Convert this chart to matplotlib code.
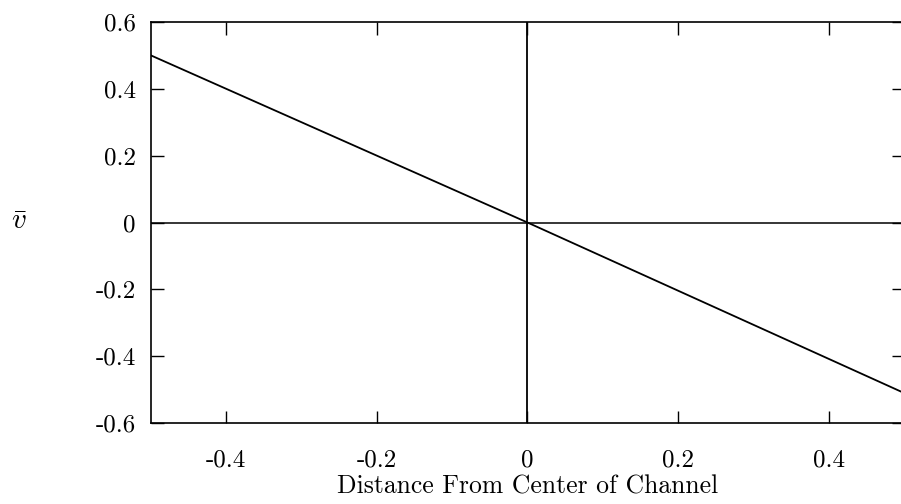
import matplotlib
matplotlib.use("Agg")
import matplotlib.pyplot as plt

# velocity profile across the channel
distance = [-0.5, 0.0, 0.5]
v_bar = [0.5, 0.0, -0.51]

x_ticks = [-0.4, -0.2, 0.0, 0.2, 0.4]
x_tick_labels = ["-0.4", "-0.2", "0", "0.2", "0.4"]
y_ticks = [-0.6, -0.4, -0.2, 0.0, 0.2, 0.4, 0.6]
y_tick_labels = ["-0.6", "-0.4", "-0.2", "0", "0.2", "0.4", "0.6"]

plt.rcParams["font.family"] = "cmr10"
plt.rcParams["mathtext.fontset"] = "cm"

fig = plt.figure(figsize=(9.01, 5.04), dpi=100)
ax = fig.add_axes([0.1676, 0.1607, 0.8357, 0.7956])

ax.plot(distance, v_bar, color="black", lw=1.3)
# zero axes
ax.axhline(0, color="black", lw=1.1)
ax.axvline(0, color="black", lw=1.3)

ax.set_xlim(-0.5, 0.5)
ax.set_ylim(-0.6, 0.6)
ax.set_xticks(x_ticks)
ax.set_xticklabels(x_tick_labels)
ax.set_yticks(y_ticks)
ax.set_yticklabels(y_tick_labels)
ax.tick_params(direction="in", length=9, width=1.0, top=True, right=True,
               labelsize=18)
ax.tick_params(axis="x", pad=19)
ax.tick_params(axis="y", pad=11)

for s in ax.spines.values():
    s.set_linewidth(1.2)

ax.set_xlabel("Distance From Center of Channel", fontsize=18.5, labelpad=2)
fig.text(19 / 901, 1 - 222 / 504, r"$\bar{v}$", fontsize=21,
         ha="center", va="center")

fig.savefig("out.png", dpi=100)
